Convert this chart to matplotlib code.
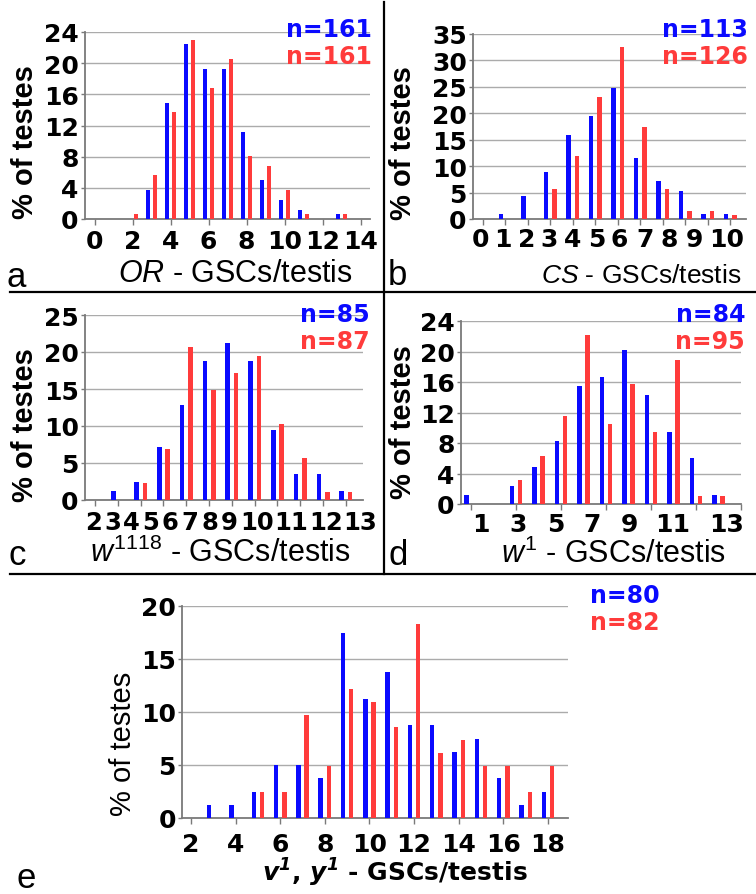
import numpy as np
import matplotlib.pyplot as plt
from matplotlib.lines import Line2D

plt.rcParams['font.family'] = ['Liberation Sans', 'DejaVu Sans']
plt.rcParams['mathtext.fontset'] = 'custom'
plt.rcParams['mathtext.it'] = 'Liberation Sans:italic'
plt.rcParams['mathtext.rm'] = 'Liberation Sans'
plt.rcParams['mathtext.bf'] = 'DejaVu Sans:italic:bold'   # used for the bold italic label of e

# % of testes per number of GSCs/testis, blue = first count, red = second count
a_x = np.arange(0, 15)
a_blue = [0, 0, 0, 3.7, 14.9, 22.4, 19.3, 19.3, 11.2, 5.0, 2.5, 1.2, 0, 0.6, 0]
a_red = [0, 0, 0.6, 5.6, 13.7, 23.0, 16.8, 20.5, 8.1, 6.8, 3.7, 0.6, 0, 0.6, 0]
a_n = ['n=161', 'n=161']

b_x = np.arange(0, 12)
b_blue = [0, 0.9, 4.4, 8.8, 15.9, 19.5, 24.8, 11.5, 7.1, 5.3, 0.9, 0.9]
b_red = [0, 0, 0, 5.6, 11.9, 23.0, 32.5, 17.5, 5.6, 1.6, 1.6, 0.8]
b_n = ['n=113', 'n=126']

c_x = np.arange(2, 14)
c_blue = [0, 1.2, 2.4, 7.1, 12.9, 18.8, 21.2, 18.8, 9.4, 3.5, 3.5, 1.2]
c_red = [0, 0, 2.3, 6.9, 20.7, 14.9, 17.2, 19.5, 10.3, 5.7, 1.1, 1.1]
c_n = ['n=85', 'n=87']

d_x = np.arange(1, 14)
d_blue = [1.2, 0, 2.4, 4.8, 8.3, 15.5, 16.7, 20.2, 14.3, 9.5, 6.0, 1.2, 0]
d_red = [0, 0, 3.2, 6.3, 11.6, 22.1, 10.5, 15.8, 9.5, 18.9, 1.1, 1.1, 0]
d_n = ['n=84', 'n=95']

e_x = np.arange(3, 19)
e_blue = [1.25, 1.25, 2.5, 5.0, 5.0, 3.75, 17.5, 11.25, 13.75, 8.75, 8.75, 6.25, 7.5, 3.75, 1.25, 2.5]
e_red = [0, 0, 2.44, 2.44, 9.76, 4.88, 12.2, 10.98, 8.54, 18.3, 6.1, 7.32, 4.88, 4.88, 2.44, 4.88]
e_n = ['n=80', 'n=82']

# tick labels as typed in the figure (they are not quite on the ticks in b, c, d)
b_labels = [str(i) for i in range(0, 11)]
b_lab_pos = [-0.1, 0.9, 1.95, 2.95, 4.0, 5.05, 6.05, 7.2, 8.3, 9.4, 10.85]
c_labels = [str(i) for i in range(2, 14)]
c_lab_pos = [1.93, 2.78, 3.6, 4.44, 5.3, 6.16, 7.02, 7.88, 9.1, 10.6, 12.12, 13.62]
d_labels = ['1', '3', '5', '7', '9', '11', '13']
d_lab_pos = [1.45, 3.1, 4.75, 6.4, 8.05, 9.95, 12.35]

BLUE = '#0a0aff'
RED = '#ff3b3b'
GREY = '#7a7a7a'
TICKFONT = dict(family='DejaVu Sans', weight='bold', size=18)
W, H = 756, 895

fig = plt.figure(figsize=(W / 100, H / 100), dpi=100)


def box(l, t, r, b):
    return [l / W, 1 - b / H, (r - l) / W, (b - t) / H]


def fx(x):
    return x / W


def fy(y):
    return 1 - y / H


def panel(rect, x, blue, red, xlim, ytop, ystep):
    ax = fig.add_axes(rect)
    x = np.asarray(x)
    ax.bar(x - 0.185, blue, width=0.2, color=BLUE, zorder=3)
    ax.bar(x + 0.185, red, width=0.2, color=RED, zorder=3)
    ax.set_xlim(*xlim)
    ax.set_ylim(0, ytop)
    ax.set_yticks(np.arange(0, ytop + 1, ystep))
    ax.yaxis.grid(True, color='#ababab', lw=1.0)
    ax.set_axisbelow(True)
    ax.set_facecolor('none')
    ax.xaxis.remove_overlapping_locs = False
    for s in ['top', 'right']:
        ax.spines[s].set_visible(False)
    for s in ['left', 'bottom']:
        ax.spines[s].set_color(GREY)
        ax.spines[s].set_linewidth(1.3)
    ax.tick_params(axis='y', length=3, width=1, color=GREY, pad=1.5)
    ax.tick_params(axis='x', which='both', length=4, width=1, color=GREY, pad=3.5)
    for lab in ax.get_yticklabels():
        lab.set(**TICKFONT)
    return ax


def plain_labels(ax, ticks):
    ax.set_xticks(ticks)
    for lab in ax.get_xticklabels():
        lab.set(**TICKFONT)


def moved_labels(ax, ticks, pos, labels, pad, size=18):
    ax.set_xticks(ticks)
    ax.tick_params(axis='x', which='major', labelbottom=False)
    ax.set_xticks(pos, labels=labels, minor=True)
    ax.tick_params(axis='x', which='minor', length=0, pad=pad)
    for lab in ax.get_xticklabels(minor=True):
        lab.set(**TICKFONT)
        lab.set_fontsize(size)


# a
ax = panel(box(85, 33, 370, 220), a_x, a_blue, a_red, (-0.5, 14.5), 24, 4)
plain_labels(ax, np.arange(0, 15, 2))

# b
ax = panel(box(473, 35, 746, 220), b_x, b_blue, b_red, (-0.43, 11.7), 35, 5)
moved_labels(ax, b_x, b_lab_pos, b_labels, 5.5)

# c
ax = panel(box(85, 316, 363, 501), c_x, c_blue, c_red, (1.56, 13.75), 25, 5)
moved_labels(ax, c_x, c_lab_pos, c_labels, 7.5, size=17.5)

# d
ax = panel(box(461, 322, 741, 505), d_x, d_blue, d_red, (0.56, 13.0), 24, 4)
moved_labels(ax, np.arange(1, 14, 2), d_lab_pos, d_labels, 5.5)

# e
ax = panel(box(182, 607, 568, 819), e_x, e_blue, e_red, (1.6, 18.9), 20, 5)
plain_labels(ax, np.arange(2, 19, 2))
ax.tick_params(axis='x', pad=6)

# n labels
for n, xr, yb in [(a_n, 372, 37), (b_n, 748, 37), (c_n, 370, 322), (d_n, 745, 322), (e_n, 660, 603)]:
    fig.text(fx(xr), fy(yb), n[0], color=BLUE, family='DejaVu Sans', fontsize=17, fontweight='bold',
             ha='right', va='baseline')
    fig.text(fx(xr), fy(yb + 27), n[1], color=RED, family='DejaVu Sans', fontsize=17, fontweight='bold',
             ha='right', va='baseline')

# y labels
for xc, yc, w in [(25, 142, 'bold'), (403, 143, 'bold'), (25, 425, 'bold'), (403, 422, 'bold'), (123, 744, 'normal')]:
    fig.text(fx(xc), fy(yc), '% of testes', rotation=90, fontsize=21, fontweight=w, ha='center', va='center')

# x labels
xlabels = [r'$\mathit{OR}$ - GSCs/testis', r'$\mathit{CS}$ - GSCs/testis',
           r'$\mathit{w}^{\mathit{1118}}$ - GSCs/testis', r'$\mathit{w}^{\mathit{1}}$ - GSCs/testis']
for s, (xc, yb, fs) in zip(xlabels, [(235, 282, 22), (641, 283, 19), (220, 562, 22), (614, 563, 22)]):
    fig.text(fx(xc), fy(yb), s, fontsize=fs, ha='center', va='baseline')
fig.text(fx(395), fy(882), r'$\mathbf{v}^{\mathbf{1}}$, $\mathbf{y}^{\mathbf{1}}$ - GSCs/testis',
         family='DejaVu Sans', fontweight='bold', fontsize=18, ha='center', va='baseline')

# panel letters
for s, xl, yb in [('a', 7, 287), ('b', 388, 285), ('c', 8, 565), ('d', 388, 565), ('e', 17, 888)]:
    fig.text(fx(xl), fy(yb), s, fontsize=25, ha='left', va='baseline')

# frame lines between panels
fig.add_artist(Line2D([fx(10), fx(756)], [fy(293), fy(293)], color='black', lw=1.6))
fig.add_artist(Line2D([fx(10), fx(756)], [fy(575), fy(575)], color='black', lw=1.6))
fig.add_artist(Line2D([fx(384), fx(384)], [fy(3), fy(575)], color='black', lw=1.6))

fig.savefig('out.png', dpi=100)
